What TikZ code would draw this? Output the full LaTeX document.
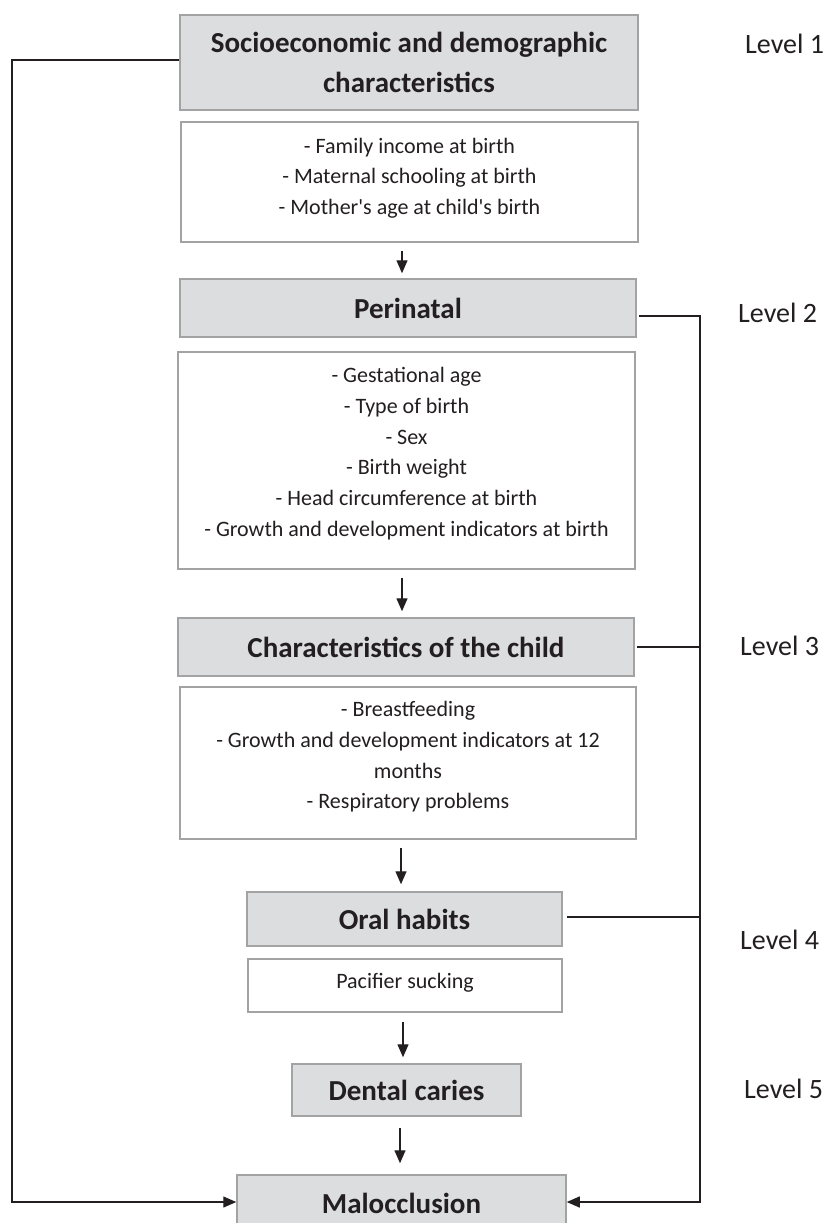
\documentclass[tikz,border=0pt]{standalone}
\usepackage{fontspec}
\setmainfont{Carlito}[Ligatures=TeXOff]
\usetikzlibrary{arrows.meta}
\definecolor{boxgray}{HTML}{DCDDDF}
\definecolor{edgegray}{HTML}{A3A3A3}
\definecolor{ink}{HTML}{231F20}
\begin{document}
\begin{tikzpicture}[x=1pt,y=-1pt,
  graybox/.style={draw=edgegray, fill=boxgray, line width=1.5pt, inner sep=0pt, align=center, text=ink, font=\fontsize{29}{40}\selectfont\bfseries},
  whitebox/.style={draw=edgegray, fill=white, line width=1.5pt, inner sep=0pt},
  itemtext/.style={align=center, text=ink, font=\fontsize{22}{30.7}\selectfont, inner sep=0pt},
  leveltext/.style={anchor=base west, text=ink, font=\fontsize{28}{32}\selectfont, inner sep=0pt},
  conn/.style={draw=ink, line width=1.4pt},
  arr/.style={conn, -{Triangle[length=13pt,width=11pt]}}]
\useasboundingbox (0,0) rectangle (829,1223);
\clip (0,0) rectangle (829,1223);
\fill[white] (0,0) rectangle (829,1223);

% gray heading boxes
\node[graybox, minimum width=458pt, minimum height=95pt] (soc) at (409,62.5) {Socioeconomic and demographic\\characteristics};
\node[graybox, minimum width=456pt, minimum height=58pt] (peri) at (408,308) {Perinatal};
\node[graybox, minimum width=456pt, minimum height=58pt] (child) at (406,647) {Characteristics of the child};
\node[graybox, minimum width=315pt, minimum height=54pt] (oral) at (404.5,919) {Oral habits};
\node[graybox, minimum width=229pt, minimum height=52pt] (dental) at (406.5,1090) {Dental caries};
\node[graybox, minimum width=329pt, minimum height=56pt] (malo) at (401.5,1203) {Malocclusion};

% white content boxes
\node[whitebox, minimum width=457pt, minimum height=120pt] (w1) at (409.5,182) {};
\node[itemtext] (t1) at ([yshift=4pt]w1.center) {- Family income at birth\\- Maternal schooling at birth\\- Mother's age at child's birth};
\node[whitebox, minimum width=457pt, minimum height=217pt] (w2) at (406.5,460.5) {};
\node[itemtext] (t2) at ([yshift=7pt]w2.center) {- Gestational age\\- Type of birth\\- Sex\\- Birth weight\\- Head circumference at birth\\- Growth and development indicators at birth};
\node[whitebox, minimum width=456pt, minimum height=152pt] (w3) at (408,763) {};
\node[itemtext] (t3) at ([yshift=6pt]w3.center) {- Breastfeeding\\- Growth and development indicators at 12\\months\\- Respiratory problems};
\node[whitebox, minimum width=314pt, minimum height=53pt] (w4) at (405,985.5) {};
\node[itemtext] (t4) at ([yshift=2.5pt]w4.center) {Pacifier sucking};

% level labels
\node[leveltext] (l1) at (745,54) {Level 1};
\node[leveltext] (l2) at (738,322) {Level 2};
\node[leveltext] (l3) at (740,655) {Level 3};
\node[leveltext] (l4) at (740,949) {Level 4};
\node[leveltext] (l5) at (744,1098) {Level 5};

% vertical arrows
\draw[arr] ([shift={(-7.5pt,-8pt)}]w1.south) -- ([shift={(-6pt,5pt)}]peri.north);
\draw[arr] ([shift={(-4.5pt,-8pt)}]w2.south) -- ([shift={(-4pt,6pt)}]child.north);
\draw[arr] ([shift={(-7pt,-8pt)}]w3.south) -- ([shift={(-3.5pt,7pt)}]oral.north);
\draw[arr] ([shift={(-2pt,-9pt)}]w4.south) -- ([shift={(-3.5pt,6pt)}]dental.north);
\draw[arr] ([shift={(-6.5pt,-11pt)}]dental.south) -- ([shift={(-1.5pt,11pt)}]malo.north);

% left connector
\coordinate (lc1) at (12,60);
\coordinate (lc2) at (12,1202);
\draw[arr] ([yshift=2.5pt]soc.west) -- (lc1) -- (lc2) -- ([yshift=1pt]malo.west);

% right connector
\coordinate (rc1) at (700,316);
\coordinate (rc2) at (700,1202);
\draw[arr] ([shift={(2pt,-8pt)}]peri.east) -- (rc1) -- (rc2) -- ([yshift=1pt]malo.east);
\draw[conn] ([xshift=2pt]child.east) -- (child.east -| rc1);
\draw[conn] ([shift={(4pt,2pt)}]oral.east) -- ([yshift=2pt]oral.east -| rc1);
\end{tikzpicture}
\end{document}
